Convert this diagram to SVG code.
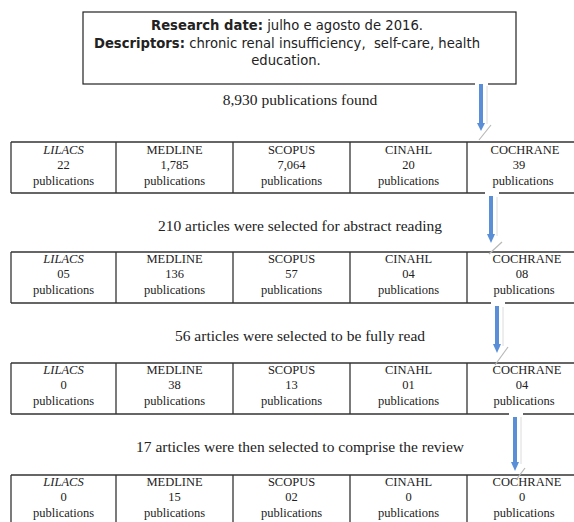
<svg xmlns="http://www.w3.org/2000/svg" width="574" height="522" viewBox="0 0 574 522">
<style>
.bg{fill:#fff}
.box{fill:#fff;stroke:#222;stroke-width:1.2}
.tbl{fill:none;stroke:#333;stroke-width:1.3}
.hd{font-family:"DejaVu Sans",Verdana,sans-serif;font-size:13.2px;fill:#222;text-anchor:middle;white-space:pre}
.hd .b{font-weight:bold}
.cap{font-family:"Liberation Serif","Times New Roman",serif;font-size:15.5px;fill:#222;text-anchor:middle}
.cell{font-family:"Liberation Serif","Times New Roman",serif;font-size:12.5px;fill:#222;text-anchor:middle}
.it{font-style:italic}
.shaft{stroke:#5a8fd8;stroke-width:4}
.head{fill:#5a8fd8}
.gap{fill:#fff}
.sh{stroke:#b8b8b8;stroke-width:1.2;fill:none}
.lt{stroke:#dcdcdc;stroke-width:1;fill:none}
</style>
<defs>
<g id="row">
<line class="tbl" x1="11" y1="0" x2="574" y2="0"/>
<line class="tbl" x1="11" y1="51" x2="574" y2="51"/>
<line class="tbl" x1="11" y1="0" x2="11" y2="51"/>
<line class="tbl" x1="116" y1="0" x2="116" y2="51"/>
<line class="tbl" x1="233" y1="0" x2="233" y2="51"/>
<line class="tbl" x1="350" y1="0" x2="350" y2="51"/>
<line class="tbl" x1="467" y1="0" x2="467" y2="51"/>
</g>
</defs>
<rect class="bg" x="0" y="0" width="574" height="522"/>

<g id="search-box">
<rect class="box" x="83" y="12" width="433" height="72"/>
<text class="hd" x="287" y="30"><tspan class="b">Research date:</tspan> julho e agosto de 2016.</text>
<text class="hd" x="287" y="48" xml:space="preserve"><tspan class="b">Descriptors:</tspan> chronic renal insufficiency,  self-care, health</text>
<text class="hd" x="286" y="65">education.</text>
</g>

<g id="caption-1"><text class="cap" x="300" y="105">8,930 publications found</text></g>
<g id="table-1">
<use href="#row" y="142"/>
<text class="cell it" x="63.5" y="154">LILACS</text><text class="cell" x="63.5" y="169">22</text><text class="cell" x="63.5" y="185">publications</text>
<text class="cell" x="174.5" y="154">MEDLINE</text><text class="cell" x="174.5" y="169">1,785</text><text class="cell" x="174.5" y="185">publications</text>
<text class="cell" x="291.5" y="154">SCOPUS</text><text class="cell" x="291.5" y="169">7,064</text><text class="cell" x="291.5" y="185">publications</text>
<text class="cell" x="408.5" y="154">CINAHL</text><text class="cell" x="408.5" y="169">20</text><text class="cell" x="408.5" y="185">publications</text>
<text class="cell" x="525" y="154">COCHRANE</text><text class="cell" x="519" y="169">39</text><text class="cell" x="523" y="185">publications</text>
</g>

<g id="caption-2"><text class="cap" x="300" y="231">210 articles were selected for abstract reading</text></g>
<g id="table-2">
<use href="#row" y="252"/>
<text class="cell it" x="63.5" y="263">LILACS</text><text class="cell" x="63.5" y="278">05</text><text class="cell" x="63.5" y="294">publications</text>
<text class="cell" x="174.5" y="263">MEDLINE</text><text class="cell" x="174.5" y="278">136</text><text class="cell" x="174.5" y="294">publications</text>
<text class="cell" x="291.5" y="263">SCOPUS</text><text class="cell" x="291.5" y="278">57</text><text class="cell" x="291.5" y="294">publications</text>
<text class="cell" x="408.5" y="263">CINAHL</text><text class="cell" x="408.5" y="278">04</text><text class="cell" x="408.5" y="294">publications</text>
<text class="cell" x="527" y="263">COCHRANE</text><text class="cell" x="522" y="278">08</text><text class="cell" x="524" y="294">publications</text>
</g>

<g id="caption-3"><text class="cap" x="300" y="341">56 articles were selected to be fully read</text></g>
<g id="table-3">
<use href="#row" y="363"/>
<text class="cell it" x="63.5" y="374">LILACS</text><text class="cell" x="63.5" y="389">0</text><text class="cell" x="63.5" y="405">publications</text>
<text class="cell" x="174.5" y="374">MEDLINE</text><text class="cell" x="174.5" y="389">38</text><text class="cell" x="174.5" y="405">publications</text>
<text class="cell" x="291.5" y="374">SCOPUS</text><text class="cell" x="291.5" y="389">13</text><text class="cell" x="291.5" y="405">publications</text>
<text class="cell" x="408.5" y="374">CINAHL</text><text class="cell" x="408.5" y="389">01</text><text class="cell" x="408.5" y="405">publications</text>
<text class="cell" x="527" y="374">COCHRANE</text><text class="cell" x="522" y="389">04</text><text class="cell" x="524" y="405">publications</text>
</g>

<g id="caption-4"><text class="cap" x="300" y="452">17 articles were then selected to comprise the review</text></g>
<g id="table-4">
<use href="#row" y="475"/>
<text class="cell it" x="63.5" y="486">LILACS</text><text class="cell" x="63.5" y="501">0</text><text class="cell" x="63.5" y="517">publications</text>
<text class="cell" x="174.5" y="486">MEDLINE</text><text class="cell" x="174.5" y="501">15</text><text class="cell" x="174.5" y="517">publications</text>
<text class="cell" x="291.5" y="486">SCOPUS</text><text class="cell" x="291.5" y="501">02</text><text class="cell" x="291.5" y="517">publications</text>
<text class="cell" x="408.5" y="486">CINAHL</text><text class="cell" x="408.5" y="501">0</text><text class="cell" x="408.5" y="517">publications</text>
<text class="cell" x="527" y="486">COCHRANE</text><text class="cell" x="522" y="501">0</text><text class="cell" x="524" y="517">publications</text>
</g>

<g id="connectors">
<g id="arrow-1">
<rect class="gap" x="475" y="83" width="13" height="4"/>
<line class="lt" x1="487" y1="86" x2="487" y2="124"/>
<line class="shaft" x1="481" y1="84" x2="481" y2="124"/>
<polygon class="head" points="477,123 485,123 481,131"/>
<line class="sh" x1="479" y1="140" x2="491" y2="125"/>
</g>
<g id="arrow-2">
<rect class="gap" x="485" y="192" width="14" height="4"/>
<line class="lt" x1="497" y1="197" x2="497" y2="236"/>
<line class="shaft" x1="491" y1="196" x2="491" y2="235"/>
<polygon class="head" points="487,234 495,234 491,243"/>
<line class="sh" x1="489" y1="254" x2="502" y2="242"/>
</g>
<g id="arrow-3">
<rect class="gap" x="491" y="302" width="14" height="4"/>
<line class="lt" x1="503" y1="307" x2="503" y2="346"/>
<line class="shaft" x1="497" y1="306" x2="497" y2="345"/>
<polygon class="head" points="493,344 501,344 497,353"/>
<line class="sh" x1="495" y1="365" x2="508" y2="347"/>
</g>
<g id="arrow-4">
<rect class="gap" x="509" y="413" width="14" height="4"/>
<line class="lt" x1="521" y1="417" x2="521" y2="464"/>
<line class="shaft" x1="515" y1="417" x2="515" y2="463"/>
<polygon class="head" points="511,462 519,462 515,471"/>
<line class="sh" x1="516" y1="480" x2="525" y2="468"/>
</g>
</g>
</svg>
